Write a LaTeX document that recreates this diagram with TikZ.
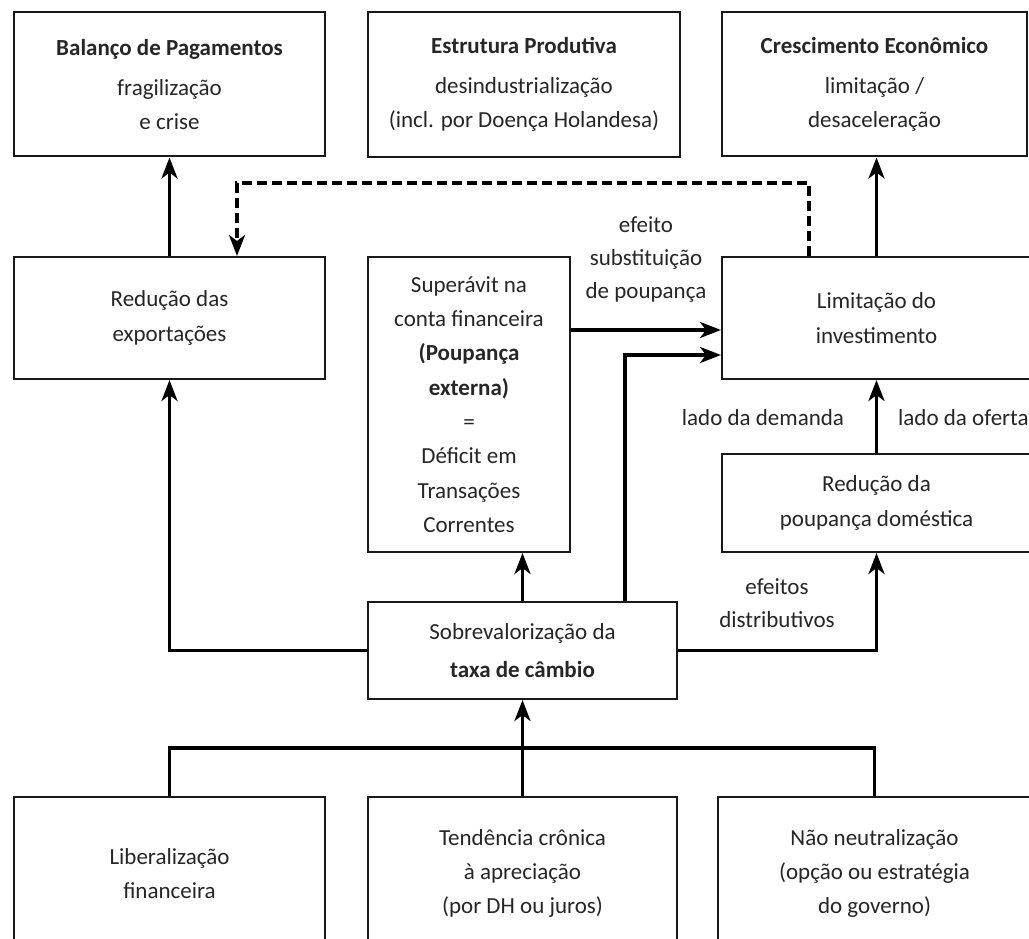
\documentclass[tikz,border=0pt]{standalone}
\usepackage{fontspec}
\setmainfont{Carlito}
\usetikzlibrary{arrows.meta}
\begin{document}
\begin{tikzpicture}[x=1pt,y=-1pt,
  box/.style={draw=black!90, line width=2pt, inner sep=0pt, align=center, text=black!85, font=\fontsize{23}{34.3}\selectfont},
  lbl/.style={inner sep=0pt, align=center, text=black!85, font=\fontsize{23}{33}\selectfont},
  conn/.style={line width=3.6pt, draw=black},
  tip/.style={-{Stealth[length=21pt,width=16pt,inset=6pt]}},
  arr/.style={conn, tip},
  dsh/.style={line width=3.6pt, draw=black, dash pattern=on 10pt off 5pt, tip}
]
\useasboundingbox (0,0) rectangle (1029,939);
\fill[white] (0,0) rectangle (1029,939);

% top row
\node[box, minimum width=311, minimum height=144] (bp) at (169.5,84.5)
  {\textbf{Balanço de Pagamentos}\\[6pt]fragilização\\e crise};
\node[box, minimum width=312, minimum height=145] (ep) at (524,84.5)
  {\textbf{Estrutura Produtiva}\\[6pt]desindustrialização\\(incl. por Doença Holandesa)};
\node[box, minimum width=305, minimum height=144] (ce) at (874.5,84.5)
  {\textbf{Crescimento Econômico}\\[6pt]limitação /\\desaceleração};

% middle row
\node[box, minimum width=311, minimum height=122] (rx) at (169.5,318)
  {Redução das\\exportações};
\node[box, minimum width=202, minimum height=295] (sp) at (469,404.5)
  {Superávit na\\conta financeira\\\textbf{(Poupança}\\\textbf{externa)}\\=\\Déficit em\\Transações\\Correntes};
\node[box, minimum width=309, minimum height=122] (li) at (876.5,318)
  {Limitação do\\investimento};
\node[box, minimum width=309, minimum height=98] (rp) at (876.5,503)
  {Redução da\\poupança doméstica};
\node[box, minimum width=309, minimum height=97] (sv) at (522.5,650.5)
  {Sobrevalorização da\\[4pt]\textbf{taxa de câmbio}};

% bottom row
\node[box, minimum width=311, minimum height=153] (bl) at (169.5,873.5)
  {Liberalização\\financeira};
\node[box, minimum width=309, minimum height=153] (bm) at (522.5,873.5)
  {Tendência crônica\\à apreciação\\(por DH ou juros)};
\node[box, minimum width=313, minimum height=153] (br) at (874.5,873.5)
  {Não neutralização\\(opção ou estratégia\\do governo)};

% labels
\node[lbl] (efs) at (646,260) {efeito\\substituição\\de poupança};
\node[lbl] (ldd) at (763,418) {lado da demanda};
\node[lbl, anchor=west] (ldo) at (898,418) {lado da oferta};
\node[lbl] (efd) at (777,603.5) {efeitos\\distributivos};

% helper coordinates
\coordinate (dR) at (809,183);
\coordinate (dL) at (237,183);
\coordinate (a1) at (0,330);
\coordinate (a2) at (625,355);
\coordinate (bus) at (0,748);

% connectors
\draw[arr] (rx.north) -- (bp.south);
\draw[arr] (li.north) -- (li.north |- ce.south);
\draw[dsh] (li.north -| dR) -- (dR) -- (dL) -- (rx.north -| dL);
\draw[arr] (sp.east |- a1) -- (li.west |- a1);
\draw[arr] (sv.north -| a2) -- (a2) -- (li.west |- a2);
\draw[arr] (sv.north) -- (sv.north |- sp.south);
\draw[arr] (sv.west) -| (rx.south);
\draw[arr] (sv.east) -| (rp.south);
\draw[arr] (rp.north) -- (li.south);
\draw[conn] (bl.north) -- (bl.north |- bus) -- (br.north |- bus) -- (br.north);
\draw[arr] (bm.north) -- (sv.south);
\end{tikzpicture}
\end{document}
